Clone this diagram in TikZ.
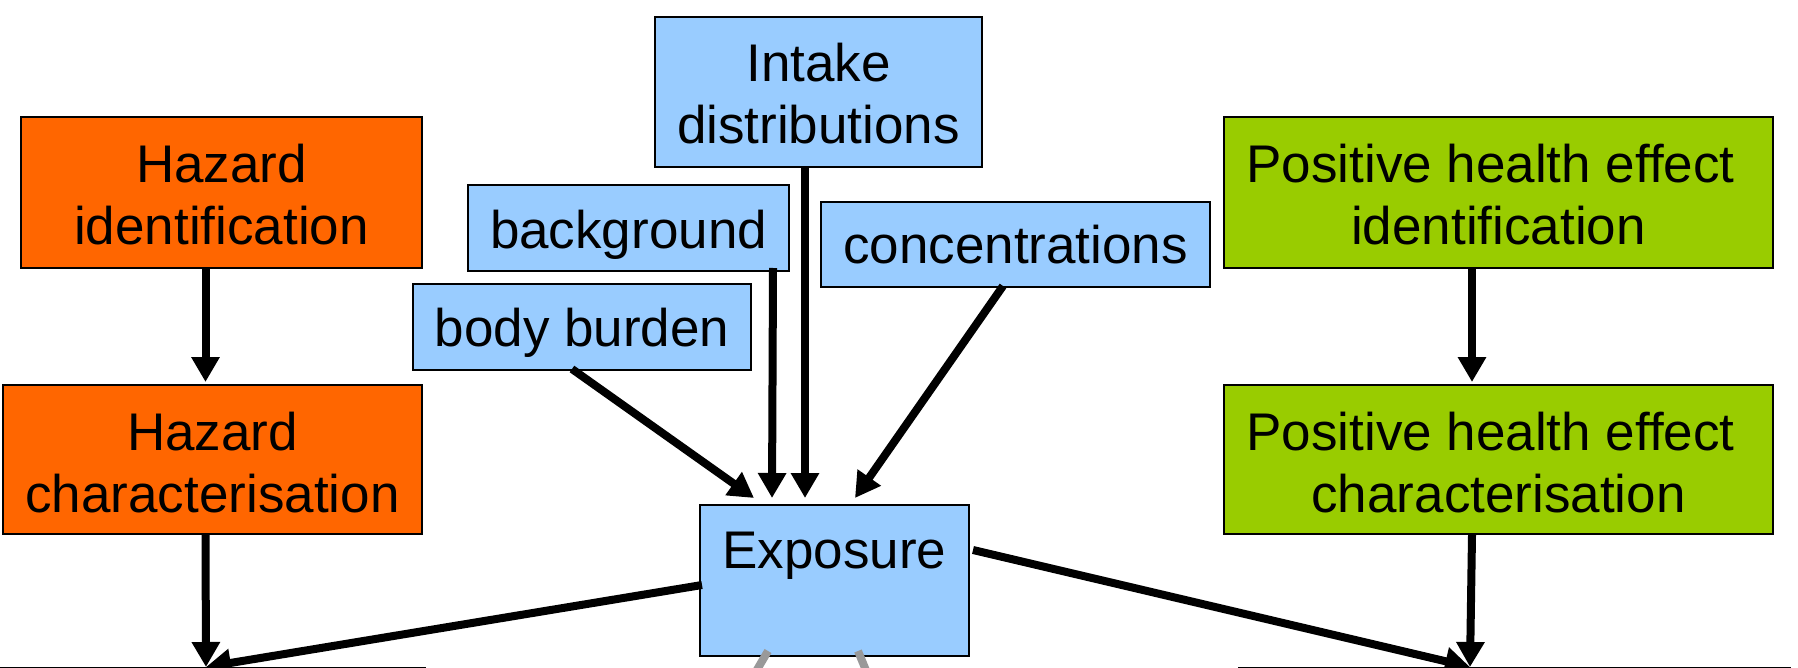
\documentclass[tikz,border=0pt]{standalone}
\usepackage{fontspec}
\setmainfont{Liberation Sans}
\usetikzlibrary{arrows.meta}
\definecolor{hazard}{HTML}{FF6600}
\definecolor{benefit}{HTML}{99CC00}
\definecolor{expo}{HTML}{99CCFF}
\definecolor{lead}{HTML}{999999}
\tikzset{
  box/.style={draw=black, line width=1pt, inner sep=0pt},
  redbox/.style={box, fill=hazard},
  greenbox/.style={box, fill=benefit},
  bluebox/.style={box, fill=expo},
  tx/.style={align=center, inner sep=0pt, font=\fontsize{26.5}{31}\selectfont},
  link/.style={line width=4pt, -{Triangle[length=12.5pt,width=13.5pt]}},
  greylink/.style={line width=4pt, draw=lead}
}
\begin{document}
\begin{tikzpicture}[x=0.5pt,y=-0.5pt]
\clip (0,0) rectangle (1798,668);
\fill[white] (0,0) rectangle (1798,668);

% risk side
\node[redbox, minimum width=200.5pt, minimum height=75.5pt,
  label={[tx, yshift=-1pt]center:{Hazard\\identification}}] (hid) at (221.5,192.5) {};
\node[redbox, minimum width=209.5pt, minimum height=74.5pt,
  label={[tx, yshift=-1.5pt]center:{Hazard\\characterisation}}] (hch) at (212.5,459.5) {};

% benefit side
\node[greenbox, minimum width=274.5pt, minimum height=75.5pt,
  label={[tx, yshift=-1pt]center:{Positive health effect\kern8pt\\identification}}] (pid) at (1498.5,192.5) {};
\node[greenbox, minimum width=274.5pt, minimum height=74.5pt,
  label={[tx, yshift=-1.5pt]center:{Positive health effect\kern8pt\\characterisation}}] (pch) at (1498.5,459.5) {};

% exposure inputs
\node[bluebox, minimum width=163.5pt, minimum height=75pt,
  label={[tx, yshift=-1pt]center:{Intake\\distributions}}] (intake) at (818.5,92) {};
\node[bluebox, minimum width=160.5pt, minimum height=43pt,
  label={[tx, yshift=-3.5pt]center:background}] (bg) at (628.5,228) {};
\node[bluebox, minimum width=194.5pt, minimum height=42.5pt,
  label={[tx]center:concentrations}] (conc) at (1015.5,244.5) {};
\node[bluebox, minimum width=169pt, minimum height=43pt,
  label={[tx, yshift=-3pt]center:body burden}] (bb) at (582,327) {};
\node[bluebox, minimum width=134.5pt, minimum height=75.5pt,
  label={[tx, anchor=base, yshift=-32pt]north:Exposure}] (exp) at (834.5,580.5) {};

% boxes continuing below the lower edge
\node[box, fill=white, minimum width=217pt, minimum height=40pt, anchor=north west] (riskc) at (-10,667) {};
\node[box, fill=white, minimum width=275.5pt, minimum height=40pt, anchor=north west] (benc) at (1238,667) {};
\coordinate (botL) at (206,667);
\coordinate (botR) at (1470,667);

% connectors
\draw[link] ([xshift=-8pt]hid.south) -- ([xshift=-3.5pt,yshift=1pt]hch.north);
\draw[link] ([xshift=-3.5pt]hch.south) -- (botL);
\draw[link] ([xshift=-13.25pt]pid.south) -- ([xshift=-13.25pt,yshift=1pt]pch.north);
\draw[link] ([xshift=-13.25pt]pch.south) -- (botR);

\draw[link] ([xshift=-6.75pt]intake.south) -- ([xshift=-14.75pt,yshift=3pt]exp.north);
\draw[link] ([xshift=-8.5pt,yshift=2pt]bg.south east) -- ([xshift=-31.25pt,yshift=3pt]exp.north);
\draw[link] ([xshift=-5pt,yshift=1pt]bb.south) -- ([xshift=-40.25pt,yshift=3pt]exp.north);
\draw[link] ([xshift=-6.25pt,yshift=1pt]conc.south) -- ([xshift=10.25pt,yshift=3pt]exp.north);

\draw[link] ([xshift=1.5pt,yshift=-2.25pt]exp.west) -- (botL);
\draw[link] ([xshift=1.5pt,yshift=15.25pt]exp.east) -- (botR);

% lines leaving the exposure box downwards
\draw[greylink] ([xshift=-33.25pt,yshift=3pt]exp.south) -- ([xshift=-45pt,yshift=-17pt]exp.south);
\draw[greylink] ([xshift=11.75pt,yshift=3pt]exp.south) -- ([xshift=20pt,yshift=-17pt]exp.south);
\end{tikzpicture}
\end{document}
